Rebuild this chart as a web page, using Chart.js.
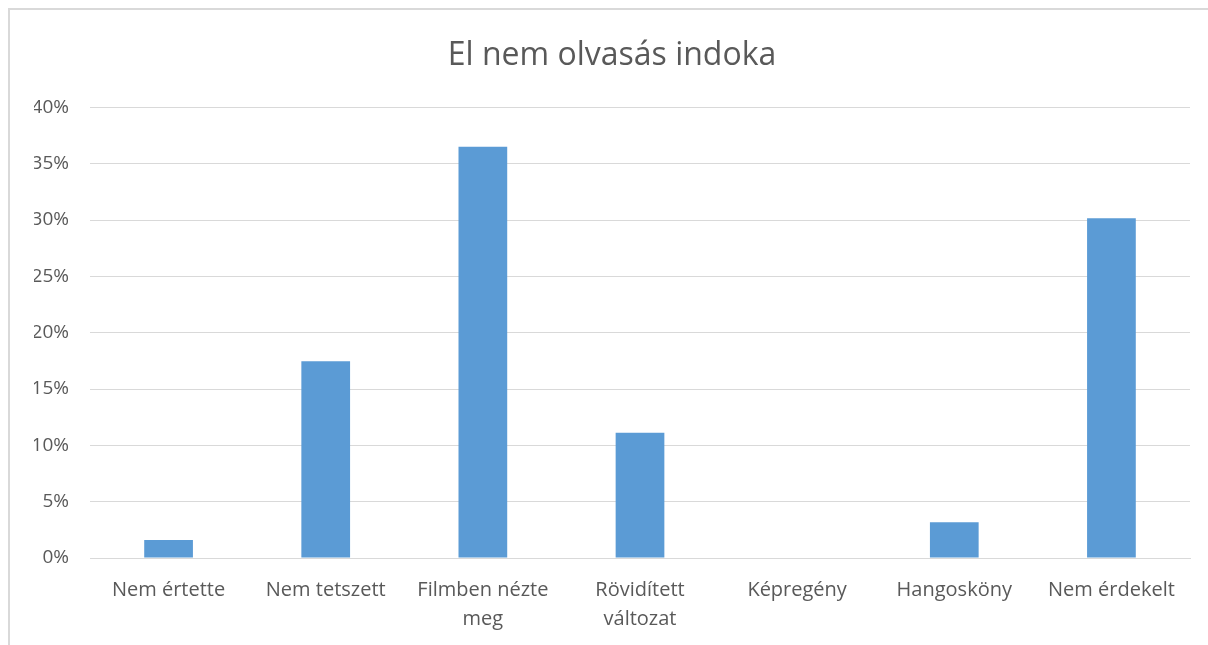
<!DOCTYPE html>
<html>
<head>
<meta charset="utf-8">
<script src="https://cdn.jsdelivr.net/npm/chart.js@4/dist/chart.umd.min.js"></script>
<style>
  html, body { margin: 0; padding: 0; background: #ffffff; overflow: hidden; }
  #wrap { position: absolute; left: 8px; top: 8px; width: 1200px; height: 640px;
          border-left: 2px solid #d9d9d9; border-top: 2px solid #d9d9d9; background: #fff; }
  canvas { display: block; }
</style>
</head>
<body>
<div id="wrap"><canvas id="c" width="1198" height="634"></canvas></div>
<script>
const categories = [
  "Nem értette",
  "Nem tetszett",
  ["Filmben nézte", "meg"],
  ["Rövidített", "változat"],
  "Képregény",
  "Hangosköny",
  "Nem érdekelt"
];
const values = [1.59, 17.46, 36.51, 11.11, 0, 3.17, 30.16];
const yTicks = [0, 5, 10, 15, 20, 25, 30, 35, 40];
const title = "El nem olvasás indoka";

const FONT = "'Open Sans', 'Liberation Sans', sans-serif";
new Chart(document.getElementById('c'), {
  type: 'bar',
  data: {
    labels: categories,
    datasets: [{
      data: values,
      backgroundColor: '#5b9bd5',
      borderWidth: 0,
      barPercentage: 0.31,
      categoryPercentage: 1.0
    }]
  },
  options: {
    responsive: false,
    animation: false,
    layout: { padding: { left: 24, right: 18, top: 27, bottom: 0 } },
    plugins: {
      legend: { display: false },
      tooltip: { enabled: false },
      title: {
        display: true,
        text: title,
        color: '#595959',
        font: { family: FONT, size: 32, weight: 'normal', lineHeight: 1.2 },
        padding: { top: 0, bottom: 32 }
      }
    },
    scales: {
      y: {
        min: 0, max: 40,
        afterBuildTicks: (axis) => { axis.ticks = yTicks.map(v => ({ value: v })); },
        afterFit: (axis) => { axis.width = 56; },
        ticks: {
          color: '#595959',
          font: { family: FONT, size: 19 },
          padding: 21,
          callback: (v) => v + '%'
        },
        grid: { color: '#d9d9d9', lineWidth: 1, drawTicks: false },
        border: { display: false }
      },
      x: {
        ticks: {
          color: '#595959',
          font: { family: FONT, size: 20, lineHeight: 1.45 },
          padding: 10,
          maxRotation: 0, autoSkip: false
        },
        grid: { display: false },
        border: { display: true, color: '#d9d9d9', width: 1 }
      }
    }
  }
});
</script>
</body>
</html>
